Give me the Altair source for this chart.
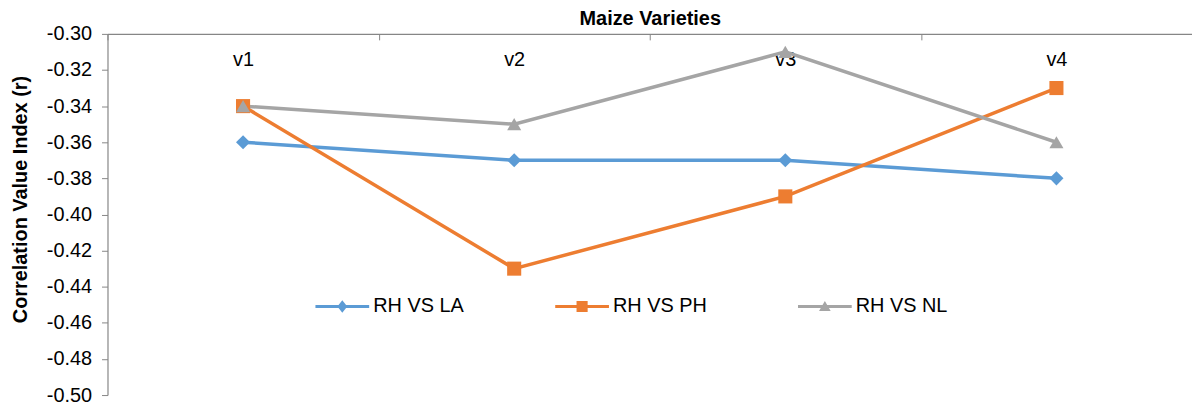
import altair as alt
import pandas as pd

categories = ["v1", "v2", "v3", "v4"]
series_names = ["RH VS LA", "RH VS PH", "RH VS NL"]
rh_vs_la = [-0.36, -0.37, -0.37, -0.38]
rh_vs_ph = [-0.34, -0.43, -0.39, -0.33]
rh_vs_nl = [-0.34, -0.35, -0.31, -0.36]
y_ticks = [-0.50, -0.48, -0.46, -0.44, -0.42, -0.40, -0.38, -0.36, -0.34, -0.32, -0.30]

colors = ["#5B9BD5", "#ED7D31", "#A5A5A5"]
marker_shapes = ["diamond", "square", "triangle-up"]
legend_paths = [
    "M-3,-0.17 L3,-0.17 L3,0.17 L-3,0.17 Z M0,-0.7 L0.55,0 L0,0.7 L-0.55,0 Z",
    "M-3,-0.17 L3,-0.17 L3,0.17 L-3,0.17 Z M-0.62,-0.62 L0.62,-0.62 L0.62,0.62 L-0.62,0.62 Z",
    "M-3,-0.17 L3,-0.17 L3,0.17 L-3,0.17 Z M0,-0.62 L0.65,0.5 L-0.65,0.5 Z",
]

rows = []
for name, vals in zip(series_names, [rh_vs_la, rh_vs_ph, rh_vs_nl]):
    for c, v in zip(categories, vals):
        rows.append({"variety": c, "series": name, "r": v})
df = pd.DataFrame(rows)

FONT = "Liberation Sans"
AX = "#868686"
W, H = 1090, 363

x_scale = alt.Scale(type="band", domain=categories, paddingInner=0, paddingOuter=0)
y_scale = alt.Scale(domain=[-0.5, -0.3], nice=False, zero=False)
color_scale = alt.Scale(domain=series_names, range=colors)

y_axis = alt.Axis(values=y_ticks,
                  labelExpr="replace(format(datum.value, '.2f'), '\u2212', '-')",
                  title="Correlation Value Index (r)", titleFontSize=20,
                  titleFontWeight="bold", titleColor="black", titlePadding=16,
                  titleY=166,
                  labelFontSize=20, labelColor="black", labelPadding=10,
                  labelFlush=False, labelOverlap=False,
                  tickSize=6, tickColor=AX, domainColor=AX, domainWidth=1.2,
                  grid=False)

lines = alt.Chart(df).mark_line(strokeWidth=3.5).encode(
    x=alt.X("variety:N", scale=x_scale, bandPosition=0.5,
            axis=alt.Axis(orient="top", title="Maize Varieties", labels=False, ticks=False,
                          domain=True, domainColor=AX, domainWidth=1.2,
                          titleFontSize=20, titleFontWeight="bold", titleColor="black",
                          titlePadding=5)),
    y=alt.Y("r:Q", scale=y_scale, axis=y_axis),
    color=alt.Color("series:N", scale=color_scale, legend=None),
)

points = alt.Chart(df).mark_point(filled=True, size=200, opacity=1).encode(
    x=alt.X("variety:N", scale=x_scale, bandPosition=0.5,
            axis=alt.Axis(orient="bottom", offset=-H, domain=False, ticks=True,
                          tickBand="extent", tickSize=6, tickColor=AX, labels=True,
                          labelFontSize=20, labelPadding=10, labelColor="black",
                          labelAngle=0, title=None)),
    y=alt.Y("r:Q", scale=y_scale, axis=y_axis),
    color=alt.Color("series:N", scale=color_scale, legend=None),
    shape=alt.Shape("series:N", scale=alt.Scale(domain=series_names, range=marker_shapes),
                    legend=None),
)

leg = dict(orient="none", legendX=208, legendY=264, direction="horizontal", title=None,
           labelFont=FONT, labelFontSize=20, labelColor="black", symbolSize=324,
           symbolStrokeWidth=0, symbolOffset=18, labelOffset=21, columnPadding=90,
           padding=0, symbolOpacity=1)

legend_layer = alt.Chart(df).mark_point(filled=True, opacity=0, size=324).encode(
    x=alt.X("variety:N", scale=x_scale, bandPosition=0.5, axis=None),
    y=alt.Y("r:Q", scale=y_scale, axis=y_axis),
    color=alt.Color("series:N", scale=color_scale, legend=alt.Legend(**leg)),
    shape=alt.Shape("series:N", scale=alt.Scale(domain=series_names, range=legend_paths),
                    legend=alt.Legend(**leg)),
)

chart = (
    alt.layer(lines, points, legend_layer)
    .resolve_scale(shape="independent", color="independent")
    .resolve_axis(x="independent")
    .properties(width=W, height=H, autosize=alt.AutoSizeParams(type="none"),
                padding={"left": 100, "top": 25, "right": 0, "bottom": 11})
    .configure_view(stroke="transparent")
    .configure_axis(labelFont=FONT, titleFont=FONT, grid=False)
    .configure_legend(labelFont=FONT)
)

chart.save("out.html", embed_options={"renderer": "svg", "actions": False})
